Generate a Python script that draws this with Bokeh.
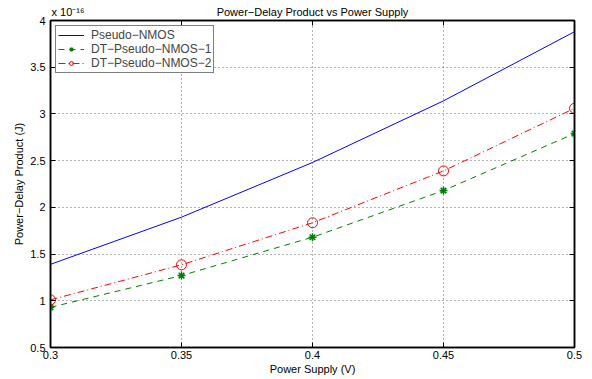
from bokeh.plotting import figure
from bokeh.models import (FixedTicker, Legend, LegendItem, LinearAxis, Range1d)
from bokeh.embed import file_html
from bokeh.resources import INLINE

supply = [0.30, 0.35, 0.40, 0.45, 0.50]
pseudo_nmos = [1.39, 1.895, 2.48, 3.14, 3.88]
dt_pseudo_nmos_1 = [0.93, 1.27, 1.68, 2.18, 2.79]
dt_pseudo_nmos_2 = [1.01, 1.385, 1.835, 2.39, 3.06]
x_ticks = [0.3, 0.35, 0.4, 0.45, 0.5]
x_labels = ["0.3", "0.35", "0.4", "0.45", "0.5"]
y_ticks = [0.5, 1, 1.5, 2, 2.5, 3, 3.5, 4]
y_labels = ["0.5", "1", "1.5", "2", "2.5", "3", "3.5", "4"]
title_text = "Power\u2212Delay Product vs Power Supply"
exponent_text = "x 10\u207b\u00b9\u2076"
x_title = "Power Supply (V)"
y_title = "Power\u2212Delay Product (J)"
series_names = ["Pseudo\u2212NMOS", "DT\u2212Pseudo\u2212NMOS\u22121", "DT\u2212Pseudo\u2212NMOS\u22122"]

FONT = "Liberation Sans"
FS = "11px"

p = figure(width=592, height=379, output_backend="svg", toolbar_location=None,
           x_range=Range1d(0.3, 0.5), y_range=Range1d(0.5, 4),
           min_border_left=50, min_border_right=18, min_border_top=20,
           min_border_bottom=32, background_fill_color="white",
           border_fill_color="white")
p.outline_line_color = "black"
p.outline_line_width = 1.5

for ax in (p.xaxis[0], p.yaxis[0]):
    ax.major_tick_in = 5
    ax.major_tick_out = 0
    ax.minor_tick_in = 0
    ax.minor_tick_out = 0
    ax.axis_line_width = 1.5
    ax.major_label_text_font = FONT
    ax.major_label_text_font_size = FS
    ax.major_label_text_color = "black"
    ax.axis_label_text_font = FONT
    ax.axis_label_text_font_size = FS
    ax.axis_label_text_font_style = "normal"
    ax.axis_label_text_color = "black"
p.xaxis[0].ticker = FixedTicker(ticks=x_ticks)
p.yaxis[0].ticker = FixedTicker(ticks=y_ticks)
p.xaxis[0].major_label_overrides = dict(zip(x_ticks, x_labels))
p.yaxis[0].major_label_overrides = dict(zip(y_ticks, y_labels))
p.xaxis[0].major_label_standoff = 3
p.yaxis[0].major_label_standoff = 5
p.xaxis[0].axis_label = x_title
p.yaxis[0].axis_label = y_title
p.xaxis[0].axis_label_standoff = 1
p.yaxis[0].axis_label_standoff = 2

# mirrored tick marks on top and right (no labels)
for side, tk in (("above", x_ticks), ("right", y_ticks)):
    a = LinearAxis(ticker=FixedTicker(ticks=tk), major_tick_in=5, major_tick_out=0,
                   minor_tick_in=0, minor_tick_out=0,
                   major_label_overrides={t: "" for t in tk},
                   major_label_standoff=0, axis_line_width=1.5)
    p.add_layout(a, side)

# title row above the frame: exponent at the left, title centred
head_ticks = [0.3067, 0.4]
head = LinearAxis(ticker=FixedTicker(ticks=head_ticks),
                  major_label_overrides={head_ticks[0]: exponent_text, head_ticks[1]: title_text},
                  major_tick_in=0, major_tick_out=0, minor_tick_in=0, minor_tick_out=0,
                  axis_line_color=None, major_label_standoff=3,
                  major_label_text_font=FONT, major_label_text_font_size=FS,
                  major_label_text_color="black")
p.add_layout(head, "above")

for g, tk in ((p.xgrid[0], x_ticks), (p.ygrid[0], y_ticks)):
    g.ticker = FixedTicker(ticks=tk)
    g.grid_line_color = "black"
    g.grid_line_alpha = 0.6
    g.grid_line_dash = "1 3"
    g.grid_line_width = 1

r1 = p.line(supply, pseudo_nmos, line_color="blue", line_width=1)
r2l = p.line(supply, dt_pseudo_nmos_1, line_color="green", line_width=1, line_dash="6 5")
r2m = p.scatter(supply, dt_pseudo_nmos_1, marker="asterisk", size=8, line_color="green",
                line_width=1.5)
r3l = p.line(supply, dt_pseudo_nmos_2, line_color="red", line_width=1, line_dash="7 3 1 3")
r3m = p.scatter(supply, dt_pseudo_nmos_2, marker="circle", size=10, line_color="red",
                fill_color=None, line_width=1)

legend = Legend(items=[LegendItem(label=series_names[0], renderers=[r1]),
                       LegendItem(label=series_names[1], renderers=[r2l, r2m]),
                       LegendItem(label=series_names[2], renderers=[r3l, r3m])],
                location="top_left", label_text_font=FONT, label_text_font_size="12px",
                border_line_color="black", border_line_width=1.2, margin=5, padding=2,
                spacing=0, label_height=10, glyph_height=10, glyph_width=26,
                label_standoff=7, background_fill_alpha=1)
p.add_layout(legend)

open("out.html", "w").write(file_html(p, INLINE))
